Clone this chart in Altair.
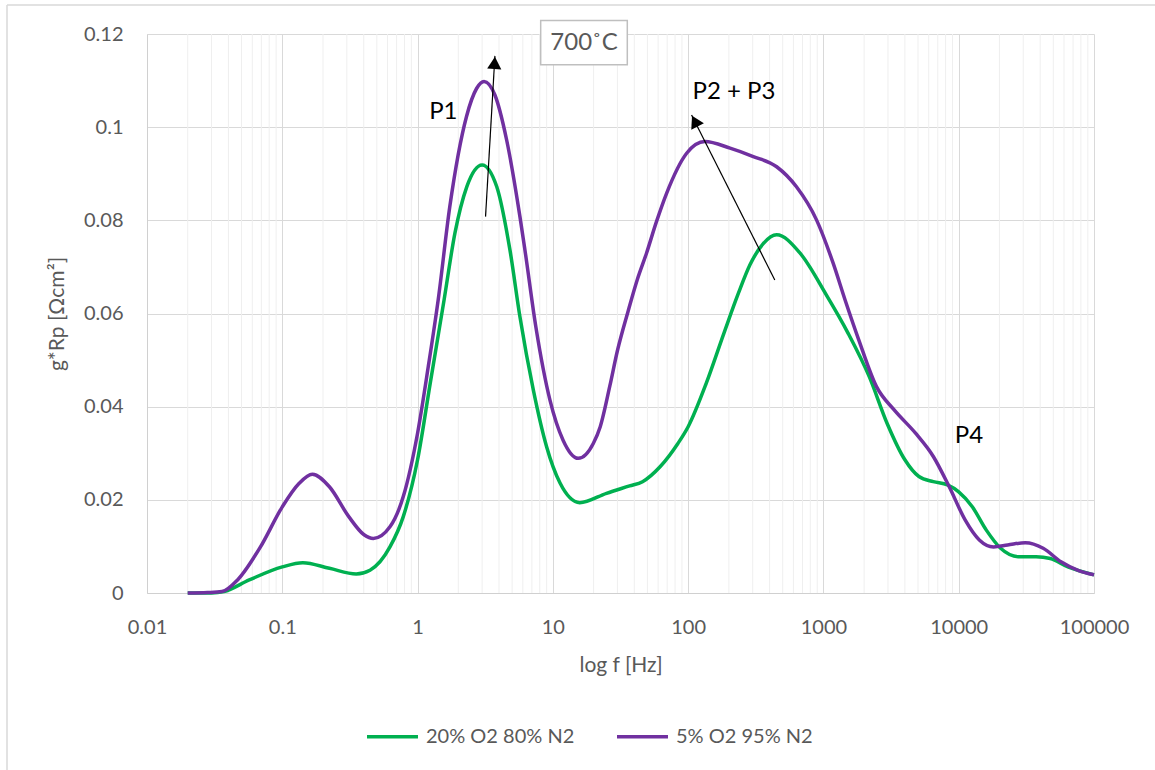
import altair as alt
import pandas as pd

# ---- data ----
series_names = ["20% O2 80% N2", "5% O2 95% N2"]
series_colors = ["#00B050", "#7030A0"]

freq_green = [0.02, 0.03, 0.037, 0.057, 0.1, 0.142, 0.223, 0.352, 0.445, 0.625, 0.784, 1.0, 1.24,
              1.57, 1.89, 2.31, 3.0, 3.85, 4.82, 5.71, 7.17, 8.99, 11.3, 15.8, 24.9, 36.9, 46, 62,
              84, 100, 136, 184, 235, 287, 359, 451, 670, 1050, 1520, 2185, 2958, 4000, 5080, 6490,
              8260, 10000, 12600, 16000, 20400, 27600, 37300, 47500, 64100, 100000]
rp_green = [0.0, 0.0, 0.0003, 0.0028, 0.0056, 0.0065, 0.0053, 0.0041, 0.0049, 0.0099, 0.0164, 0.0286,
            0.045, 0.0629, 0.0773, 0.0872, 0.0919, 0.0872, 0.0736, 0.0593, 0.0436, 0.0314, 0.0236,
            0.0194, 0.0214, 0.023, 0.0239, 0.0271, 0.0321, 0.0357, 0.045, 0.0558, 0.0643, 0.0705,
            0.075, 0.0769, 0.073, 0.064, 0.0558, 0.0464, 0.0364, 0.0286, 0.025, 0.0239, 0.0232,
            0.0217, 0.0185, 0.0135, 0.0096, 0.0078, 0.0078, 0.0074, 0.0056, 0.0039]

freq_purple = [0.02, 0.028, 0.0358, 0.0467, 0.069, 0.1, 0.1328, 0.1668, 0.223, 0.31, 0.402, 0.471,
               0.625, 0.784, 1.0, 1.2, 1.42, 1.73, 2.3, 2.73, 3.1, 3.73, 4.55, 5.71, 6.22, 7.5, 9.52,
               11.9, 15.4, 19.9, 22.4, 26.4, 30, 36, 42, 49.3, 58, 69.3, 97.5, 133, 204, 303, 451,
               632, 889, 1180, 1450, 1827, 2467, 3334, 4797, 6490, 8510, 11150, 14200, 18100, 23000,
               31100, 42100, 57000, 77000, 100000]
rp_purple = [0.0, 0.0001, 0.0003, 0.0028, 0.0099, 0.0185, 0.0235, 0.0255, 0.0228, 0.0164, 0.0125,
             0.0117, 0.0142, 0.0207, 0.0343, 0.0486, 0.0629, 0.0829, 0.1023, 0.1083, 0.1098, 0.1069,
             0.0973, 0.0808, 0.0736, 0.057, 0.0414, 0.0328, 0.0289, 0.0321, 0.0357, 0.0445, 0.052,
             0.0605, 0.0672, 0.073, 0.0795, 0.0858, 0.0944, 0.0969, 0.0955, 0.0937, 0.0915, 0.0872,
             0.0801, 0.0708, 0.0628, 0.0543, 0.0443, 0.0393, 0.0343, 0.0293, 0.0228, 0.0157, 0.0114,
             0.0099, 0.0103, 0.0108, 0.0096, 0.0067, 0.0048, 0.0039]

x_ticks = [0.01, 0.1, 1, 10, 100, 1000, 10000, 100000]
minor_ticks = [m * 10.0 ** e for e in range(-2, 5) for m in range(2, 10)]
y_ticks = [0, 0.02, 0.04, 0.06, 0.08, 0.1, 0.12]

# annotations (data coordinates)
peak_labels = ["P1", "P2 + P3", "P4"]
peak_label_f = [1.55, 218, 11890]
peak_label_v = [0.1033, 0.1076, 0.0337]

temp_label = "700˚C"
temp_f, temp_v = 17.0, 0.1181
temp_box_f, temp_box_f2 = 8.13, 35.5
temp_box_v, temp_box_v2 = 0.1134, 0.1229

arrow_f = [3.18, 437]
arrow_v = [0.0808, 0.0672]
arrow_f2 = [3.73, 106]
arrow_v2 = [0.1153, 0.1026]
head_f = [3.71, 112]
head_v = [0.1138, 0.1013]
head_angle = [3.3, 333]

# ---- tables ----
lines_df = pd.concat([
    pd.DataFrame({"f": freq_green, "v": rp_green, "s": series_names[0]}),
    pd.DataFrame({"f": freq_purple, "v": rp_purple, "s": series_names[1]}),
])
minor_df = pd.DataFrame({"f": minor_ticks})
label_df = pd.DataFrame({"f": peak_label_f, "v": peak_label_v, "t": peak_labels})
temp_df = pd.DataFrame({"f": [temp_f], "v": [temp_v], "t": [temp_label]})
box_df = pd.DataFrame({"f": [temp_box_f], "f2": [temp_box_f2], "v": [temp_box_v], "v2": [temp_box_v2]})
arrow_df = pd.DataFrame({"f": arrow_f, "v": arrow_v, "f2": arrow_f2, "v2": arrow_v2})
head_df = pd.DataFrame({"f": head_f, "v": head_v, "a": head_angle})
dummy_df = pd.DataFrame({"k": [0]})

FONT = "Lato"
LABEL_COLOR = "#595959"
W, H = 947, 559

x_scale = alt.Scale(type="log", domain=[0.01, 100000], nice=False)
y_scale = alt.Scale(domain=[0, 0.12], nice=False, zero=True)

axis_style = dict(labelFont=FONT, labelFontSize=20, labelColor=LABEL_COLOR,
                  titleFont=FONT, titleFontSize=21, titleColor=LABEL_COLOR,
                  titleFontWeight="normal", grid=True, gridColor="#d9d9d9",
                  ticks=False, domainColor="#d0d0d0")

x_axis = alt.Axis(values=x_ticks, labelExpr="'' + datum.value", title="log f [Hz]",
                  labelPadding=24, titlePadding=17, labelFlush=False, **axis_style)
y_axis = alt.Axis(values=y_ticks, labelExpr="'' + datum.value", title="g*Rp [Ωcm²]",
                  labelPadding=24, titlePadding=16, **axis_style)

X = alt.X("f:Q", scale=x_scale, axis=x_axis)
Y = alt.Y("v:Q", scale=y_scale, axis=y_axis)

minor = alt.Chart(minor_df).mark_rule(color="#efefef", strokeWidth=1).encode(
    x=X, y=alt.value(0), y2=alt.value(H)
)

lines = alt.Chart(lines_df).mark_line(strokeWidth=3.5, interpolate="monotone").encode(
    x=X, y=Y,
    color=alt.Color("s:N", scale=alt.Scale(domain=series_names, range=series_colors),
                    legend=alt.Legend(title=None, orient="none", legendX=218, legendY=675,
                                      direction="horizontal", symbolType="stroke",
                                      symbolStrokeWidth=3.5, symbolSize=2600,
                                      labelFontSize=20, labelFont=FONT, labelColor=LABEL_COLOR,
                                      labelOffset=6, columnPadding=35, padding=0)),
)

arrows = alt.Chart(arrow_df).mark_rule(color="black", strokeWidth=1.2).encode(
    x=X, y=Y, x2="f2:Q", y2="v2:Q"
)

heads = alt.Chart(head_df).mark_point(shape="triangle-up", filled=True, color="black",
                                      size=200, opacity=1).encode(
    x=X, y=Y, angle=alt.Angle("a:Q", scale=None)
)

labels = alt.Chart(label_df).mark_text(font=FONT, fontSize=24, color="black").encode(
    x=X, y=Y, text="t:N"
)

box = alt.Chart(box_df).mark_rect(fill="white", stroke="#bfbfbf", strokeWidth=1.5).encode(
    x=X, y=Y, x2="f2:Q", y2="v2:Q"
)

temp_text = alt.Chart(temp_df).mark_text(font=FONT, fontSize=24, color=LABEL_COLOR).encode(
    x=X, y=Y, text="t:N"
)

border_left = alt.Chart(dummy_df).mark_rule(color="#d9d9d9", strokeWidth=1.5).encode(
    x=alt.value(-140), y=alt.value(-29), y2=alt.value(H + 250)
)
border_top = alt.Chart(dummy_df).mark_rule(color="#d9d9d9", strokeWidth=1.5).encode(
    x=alt.value(-140), x2=alt.value(W + 200), y=alt.value(-29)
)

chart = alt.layer(
    minor, lines, arrows, heads, labels, box, temp_text, border_left, border_top
).properties(
    width=W, height=H,
    autosize=alt.AutoSizeParams(type="none"),
    padding={"left": 147, "top": 34, "right": 61, "bottom": 177},
    background="white",
).configure_view(
    stroke="transparent"
)

chart.save("out.html", embed_options={"renderer": "svg", "actions": False})
